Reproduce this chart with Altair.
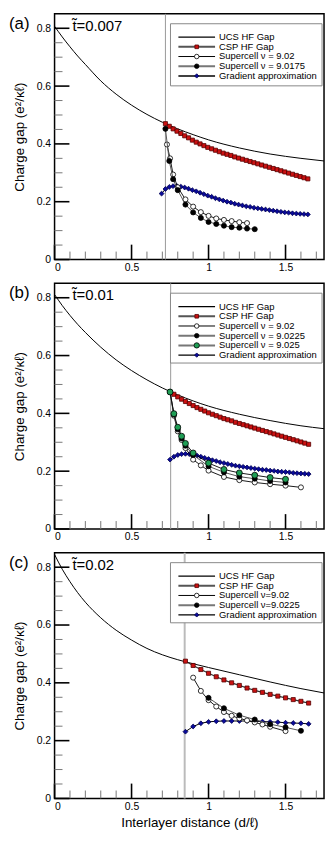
import altair as alt
import pandas as pd

W, H = 272, 248
FONT = "Liberation Sans"

# ---------------- data ----------------
UCS_X = [0, 0.05, 0.1, 0.15, 0.2, 0.3, 0.4, 0.5, 0.6, 0.7, 0.8, 0.9, 1.0, 1.2, 1.4, 1.6, 1.75]
UCS_A = [0.807, 0.770, 0.736, 0.704, 0.675, 0.618, 0.572, 0.534, 0.502, 0.475, 0.452, 0.432, 0.414, 0.386, 0.365, 0.350, 0.341]
UCS_B = [0.811, 0.773, 0.739, 0.708, 0.680, 0.629, 0.585, 0.548, 0.516, 0.488, 0.464, 0.443, 0.425, 0.397, 0.375, 0.357, 0.347]
UCS_C = [0.844, 0.793, 0.750, 0.712, 0.679, 0.625, 0.582, 0.548, 0.519, 0.497, 0.480, 0.466, 0.453, 0.428, 0.403, 0.380, 0.365]

# panel (a)
CSP_A_X = [0.72, 0.745, 0.77, 0.795, 0.82, 0.845, 0.87, 0.895, 0.92, 0.945, 0.97, 0.995, 1.02, 1.045, 1.07,
           1.095, 1.12, 1.145, 1.17, 1.195, 1.22, 1.245, 1.27, 1.295, 1.32, 1.345, 1.37, 1.395, 1.42, 1.445,
           1.47, 1.495, 1.52, 1.545, 1.57, 1.595, 1.62, 1.645]
CSP_A_Y = [0.470, 0.461, 0.452, 0.444, 0.436, 0.428, 0.421, 0.413, 0.406, 0.400, 0.394, 0.388, 0.383, 0.378,
           0.373, 0.368, 0.364, 0.360, 0.355, 0.351, 0.347, 0.343, 0.339, 0.335, 0.331, 0.327, 0.323, 0.319,
           0.315, 0.311, 0.307, 0.303, 0.299, 0.295, 0.291, 0.287, 0.283, 0.279]
GRAD_A_X = [0.695] + CSP_A_X
GRAD_A_Y = [0.228, 0.244, 0.251, 0.254, 0.254, 0.252, 0.249, 0.245, 0.240, 0.236, 0.231, 0.226, 0.221, 0.217,
            0.212, 0.208, 0.204, 0.200, 0.197, 0.193, 0.190, 0.187, 0.184, 0.182, 0.179, 0.177, 0.175, 0.173,
            0.171, 0.169, 0.167, 0.165, 0.163, 0.162, 0.160, 0.159, 0.158, 0.157, 0.156]
SC902_A_X = [0.73, 0.75, 0.77, 0.80, 0.85, 0.90, 0.95, 1.00, 1.05, 1.10, 1.15, 1.20, 1.25]
SC902_A_Y = [0.398, 0.350, 0.294, 0.250, 0.208, 0.183, 0.164, 0.151, 0.142, 0.137, 0.133, 0.129, 0.126]
SC90175_A_X = [0.72, 0.745, 0.77, 0.80, 0.85, 0.90, 0.95, 1.00, 1.05, 1.10, 1.15, 1.20, 1.25, 1.30]
SC90175_A_Y = [0.452, 0.341, 0.278, 0.240, 0.190, 0.163, 0.144, 0.130, 0.123, 0.117, 0.112, 0.110, 0.107, 0.105]

# panel (b)
GRID_B = [0.75, 0.775, 0.8, 0.825, 0.85, 0.875, 0.9, 0.925, 0.95, 0.975, 1.0, 1.025, 1.05, 1.075, 1.1, 1.125,
          1.15, 1.175, 1.2, 1.225, 1.25, 1.275, 1.3, 1.325, 1.35, 1.375, 1.4, 1.425, 1.45, 1.475, 1.5, 1.525,
          1.55, 1.575, 1.6, 1.625, 1.65]
CSP_B_Y = [0.474, 0.466, 0.457, 0.449, 0.441, 0.434, 0.427, 0.420, 0.414, 0.408, 0.402, 0.397, 0.392, 0.387,
           0.382, 0.378, 0.374, 0.369, 0.365, 0.361, 0.357, 0.353, 0.349, 0.345, 0.341, 0.337, 0.333, 0.329,
           0.325, 0.321, 0.317, 0.313, 0.309, 0.305, 0.301, 0.297, 0.293]
GRAD_B_Y = [0.240, 0.250, 0.256, 0.259, 0.260, 0.259, 0.257, 0.254, 0.250, 0.246, 0.242, 0.238, 0.235, 0.231,
            0.228, 0.225, 0.222, 0.219, 0.217, 0.215, 0.213, 0.211, 0.209, 0.207, 0.205, 0.204, 0.202, 0.201,
            0.199, 0.198, 0.197, 0.196, 0.194, 0.193, 0.192, 0.191, 0.190]
SC902_B_X = [0.75, 0.775, 0.8, 0.825, 0.85, 0.9, 0.95, 1.0, 1.1, 1.2, 1.3, 1.4, 1.5, 1.6]
SC902_B_Y = [0.474, 0.392, 0.338, 0.308, 0.280, 0.240, 0.220, 0.202, 0.180, 0.169, 0.161, 0.155, 0.150, 0.144]
SC90225_B_X = [0.75, 0.775, 0.8, 0.825, 0.85, 0.9, 1.0, 1.1, 1.2, 1.3, 1.4, 1.5]
SC90225_B_Y = [0.474, 0.396, 0.345, 0.313, 0.288, 0.256, 0.217, 0.196, 0.181, 0.174, 0.166, 0.161]
SC9025_B_X = [0.75, 0.775, 0.8, 0.825, 0.85, 0.9, 1.0, 1.1, 1.2, 1.3, 1.4, 1.5]
SC9025_B_Y = [0.474, 0.399, 0.352, 0.321, 0.296, 0.263, 0.228, 0.206, 0.194, 0.186, 0.178, 0.172]

# panel (c)
GRID_C = [0.85, 0.9, 0.95, 1.0, 1.05, 1.1, 1.15, 1.2, 1.25, 1.3, 1.35, 1.4, 1.45, 1.5, 1.55, 1.6, 1.65]
CSP_C_Y = [0.475, 0.460, 0.446, 0.433, 0.421, 0.410, 0.400, 0.391, 0.382, 0.374, 0.367, 0.360, 0.354, 0.348,
           0.342, 0.336, 0.330]
GRAD_C_Y = [0.231, 0.249, 0.260, 0.265, 0.267, 0.268, 0.268, 0.268, 0.268, 0.267, 0.266, 0.265, 0.264, 0.262,
            0.261, 0.260, 0.258]
SC902_C_X = [0.9, 0.95, 1.0, 1.05, 1.1, 1.15, 1.2, 1.25, 1.3, 1.35, 1.4, 1.5]
SC902_C_Y = [0.418, 0.372, 0.340, 0.318, 0.299, 0.286, 0.277, 0.270, 0.263, 0.256, 0.248, 0.233]
SC90225_C_X = [1.0, 1.1, 1.2, 1.3, 1.4, 1.5, 1.6]
SC90225_C_Y = [0.348, 0.312, 0.288, 0.273, 0.257, 0.246, 0.234]

X_MAJOR = [0, 0.5, 1.0, 1.5]
X_MINOR = [0.1, 0.2, 0.3, 0.4, 0.6, 0.7, 0.8, 0.9, 1.1, 1.2, 1.3, 1.4, 1.6, 1.7]
Y_MAJOR = [0, 0.2, 0.4, 0.6, 0.8]
Y_MINOR = [0.05, 0.1, 0.15, 0.25, 0.3, 0.35, 0.45, 0.5, 0.55, 0.65, 0.7, 0.75]

# ---------------- styles ----------------
STYLE = {
    "ucs": dict(lc="black", lw=1.0, shape="none", fill="none", stroke="none", size=0),
    "csp": dict(lc="#333333", lw=1.2, shape="square", fill="#cc1111", stroke="#550000", size=17),
    "open": dict(lc="black", lw=0.9, shape="circle", fill="white", stroke="black", size=26),
    "black": dict(lc="#555555", lw=1.0, shape="circle", fill="black", stroke="black", size=26),
    "green": dict(lc="black", lw=0.9, shape="circle", fill="#1f9e55", stroke="black", size=36),
    "grad": dict(lc="black", lw=1.0, shape="diamond", fill="#0a0a9a", stroke="#000050", size=24),
}
LEG_LINE = {"ucs": ("black", 1.2), "csp": ("#555555", 2.0), "open": ("black", 1.0),
            "black": ("#777777", 2.0), "green": ("#777777", 2.0), "grad": ("black", 1.5)}

xs = alt.Scale(domain=[0, 1.75], nice=False, zero=False)
ys = alt.Scale(domain=[0, 0.85], nice=False, zero=False)


def panel(letter, tlabel, vline, ucs_y, series, legend, xtitle=None):
    xkw = dict(values=X_MAJOR, format="~g", labelPadding=3)
    if xtitle:
        xkw["title"] = xtitle
        xkw["titlePadding"] = 4
    else:
        xkw["title"] = None
    xaxis = alt.Axis(**xkw)
    yaxis = alt.Axis(values=Y_MAJOR, format="~g", labelPadding=4, title="Charge gap (e²/κℓ)", titlePadding=10)

    def X(f):
        return alt.X(f, type="quantitative", scale=xs, axis=xaxis)

    def Y(f):
        return alt.Y(f, type="quantitative", scale=ys, axis=yaxis)

    layers = []
    # vertical marker line
    vc, vw = ("#999999", 1.0) if letter != "(c)" else ("#bbbbbb", 2.0)
    layers.append(alt.Chart(pd.DataFrame({"v": [vline]})).mark_rule(color=vc, strokeWidth=vw)
                  .encode(x=X("v"), y=alt.value(0), y2=alt.value(H)))
    # inward ticks
    layers.append(alt.Chart(pd.DataFrame({"t": X_MINOR})).mark_rule(color="#777777", strokeWidth=1)
                  .encode(x=X("t"), y=alt.value(H), y2=alt.value(H - 8)))
    layers.append(alt.Chart(pd.DataFrame({"t": X_MAJOR})).mark_rule(color="black", strokeWidth=1.6)
                  .encode(x=X("t"), y=alt.value(H), y2=alt.value(H - 15)))
    layers.append(alt.Chart(pd.DataFrame({"t": Y_MINOR})).mark_rule(color="#777777", strokeWidth=1)
                  .encode(y=Y("t"), x=alt.value(0), x2=alt.value(8)))
    layers.append(alt.Chart(pd.DataFrame({"t": Y_MAJOR})).mark_rule(color="black", strokeWidth=1.6)
                  .encode(y=Y("t"), x=alt.value(0), x2=alt.value(15)))
    # UCS line
    layers.append(alt.Chart(pd.DataFrame({"x": UCS_X, "y": ucs_y}))
                  .mark_line(color="black", strokeWidth=1, interpolate="monotone")
                  .encode(x=X("x"), y=Y("y")))
    # series
    for key, sx, sy in series:
        st = STYLE[key]
        df = pd.DataFrame({"x": sx, "y": sy})
        layers.append(alt.Chart(df).mark_line(color=st["lc"], strokeWidth=st["lw"])
                      .encode(x=X("x"), y=Y("y")))
        layers.append(alt.Chart(df).mark_point(shape=st["shape"], filled=True, fill=st["fill"],
                                               stroke=st["stroke"], strokeWidth=0.8, size=st["size"], opacity=1)
                      .encode(x=X("x"), y=Y("y")))
    # legend
    n = len(legend)
    y0, dy = 23.5, 9.8
    ybot = y0 + dy * (n - 1) + (10 if n == 5 and letter == "(a)" else 8)
    layers.append(alt.Chart(pd.DataFrame({"k": [0]})).mark_rect(fill="white", stroke="#888888", strokeWidth=1)
                  .encode(x=alt.value(117), x2=alt.value(270), y=alt.value(10), y2=alt.value(ybot)))
    rows = []
    for i, (label, key) in enumerate(legend):
        st = STYLE[key]
        lc, lw = LEG_LINE[key]
        rows.append(dict(label=label, idx=i, lc=lc, lw=lw, shape=st["shape"], fill=st["fill"],
                         stroke=st["stroke"], size=st["size"] * 0.8))
    ldf = pd.DataFrame(rows)
    base = alt.Chart(ldf).transform_calculate(yp=f"{y0} + {dy} * datum.idx")
    layers.append(base.mark_rule().encode(
        x=alt.value(125), x2=alt.value(162), y=alt.Y("yp:Q", scale=None),
        color=alt.Color("lc:N", scale=None), strokeWidth=alt.StrokeWidth("lw:Q", scale=None)))
    layers.append(base.transform_filter("datum.shape != 'none'").mark_point(filled=True, opacity=1, strokeWidth=0.8)
                  .encode(x=alt.value(143.5), y=alt.Y("yp:Q", scale=None),
                          shape=alt.Shape("shape:N", scale=None), fill=alt.Fill("fill:N", scale=None),
                          stroke=alt.Stroke("stroke:N", scale=None), size=alt.Size("size:Q", scale=None)))
    layers.append(base.mark_text(align="left", baseline="middle", font=FONT, fontSize=9.5, color="black")
                  .encode(x=alt.value(166), y=alt.Y("yp:Q", scale=None), text="label:N"))
    # annotations
    ann = pd.DataFrame({"k": [0]})
    layers.append(alt.Chart(ann).mark_text(align="left", baseline="middle", font=FONT, fontSize=17, color="black")
                  .encode(x=alt.value(-46), y=alt.value(10), text=alt.value(letter)))
    layers.append(alt.Chart(ann).mark_text(align="left", baseline="middle", font=FONT, fontSize=15, color="black")
                  .encode(x=alt.value(18), y=alt.value(12), text=alt.value(tlabel)))
    return alt.layer(*layers).properties(width=W, height=H)


pa = panel("(a)", "t\u0303=0.007", 0.72, UCS_A,
           [("csp", CSP_A_X, CSP_A_Y), ("grad", GRAD_A_X, GRAD_A_Y),
            ("open", SC902_A_X, SC902_A_Y), ("black", SC90175_A_X, SC90175_A_Y)],
           [("UCS HF Gap", "ucs"), ("CSP HF Gap", "csp"), ("Supercell ν = 9.02", "open"),
            ("Supercell ν = 9.0175", "black"), ("Gradient approximation", "grad")])
pb = panel("(b)", "t\u0303=0.01", 0.754, UCS_B,
           [("csp", GRID_B, CSP_B_Y), ("grad", GRID_B, GRAD_B_Y),
            ("open", SC902_B_X, SC902_B_Y), ("black", SC90225_B_X, SC90225_B_Y),
            ("green", SC9025_B_X, SC9025_B_Y)],
           [("UCS HF Gap", "ucs"), ("CSP HF Gap", "csp"), ("Supercell ν = 9.02", "open"),
            ("Supercell ν = 9.0225", "black"), ("Supercell ν = 9.025", "green"),
            ("Gradient approximation", "grad")])
pc = panel("(c)", "t\u0303=0.02", 0.845, UCS_C,
           [("csp", GRID_C, CSP_C_Y), ("grad", GRID_C, GRAD_C_Y),
            ("open", SC902_C_X, SC902_C_Y), ("black", SC90225_C_X, SC90225_C_Y)],
           [("UCS HF Gap", "ucs"), ("CSP HF Gap", "csp"), ("Supercell ν=9.02", "open"),
            ("Supercell ν=9.0225", "black"), ("Gradient approximation", "grad")],
           xtitle="Interlayer distance (d/ℓ)")

chart = (alt.vconcat(pa, pb, pc, spacing=24, bounds="flush")
         .properties(padding=0, background="white")
         .configure_view(stroke="black", strokeWidth=1.5)
         .configure_axis(labelFont=FONT, labelFontSize=10.5, labelColor="black", titleFont=FONT,
                         titleFontSize=13.5, titleFontWeight="normal", titleColor="black",
                         ticks=False, tickSize=0, domain=False, grid=False))

chart.save("out.html", embed_options={"renderer": "svg", "actions": False})
